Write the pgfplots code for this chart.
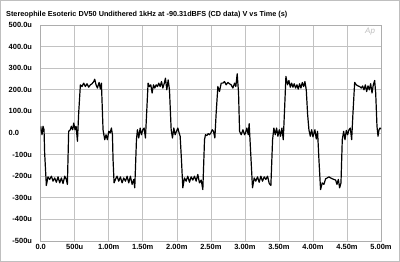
\documentclass[border=0pt]{standalone}
\usepackage{pgfplots}
\pgfplotsset{compat=1.18}
\usepackage{fontspec}
\setmainfont{Liberation Sans}
\begin{document}
\begin{tikzpicture}
\useasboundingbox (0bp,0bp) rectangle (400bp,262bp);
\fill[white] (0bp,0bp) rectangle (400bp,262bp);
\draw[black!25, line width=0.6bp] (0.3bp,0.3bp) rectangle (399.7bp,261.7bp);
\node[anchor=west, inner sep=0pt, font=\fontsize{7.3}{8}\selectfont\bfseries] at (6bp,247bp) {Stereophile Esoteric DV50 Undithered 1kHz at -90.31dBFS (CD data) V vs Time (s)};
\begin{axis}[
  at={(40.7bp,21bp)}, anchor=south west,
  scale only axis, width=340.3bp, height=216bp,
  xmin=0, xmax=5, ymin=-500, ymax=500,
  xtick={0,0.5,1,1.5,2,2.5,3,3.5,4,4.5,5},
  xticklabels={0.0,500u,1.00m,1.50m,2.00m,2.50m,3.00m,3.50m,4.00m,4.50m,5.00m},
  ytick={-500,-400,-300,-200,-100,0,100,200,300,400,500},
  yticklabels={-500u,-400u,-300u,-200u,-100u,{0.0\phantom{10u}},100.0u,200.0u,300.0u,400.0u,500.0u},
  tick label style={font=\fontsize{7.5}{8}\selectfont\bfseries, inner sep=0pt},
  yticklabel style={anchor=east, xshift=-8.5bp},
  xticklabel style={anchor=north, yshift=-3bp},
  major tick length=0pt,
  grid=major,
  major grid style={draw=black!24, line width=0.6bp},
  axis line style={draw=black!32, line width=0.6bp},
  clip=true,
]
\node[font=\fontsize{8}{8}\selectfont\itshape, text=black!25] at (axis cs:4.84,470) {Ap};
\addplot[black, line width=1.2bp, line join=round, mark=none] table {
t v
0.000 31
0.010 8
0.020 -8
0.034 31
0.049 15
0.058 -92
0.083 -243
0.107 -203
0.132 -215
0.157 -200
0.181 -223
0.206 -208
0.230 -228
0.255 -203
0.279 -231
0.304 -208
0.328 -234
0.353 -200
0.377 -215
0.392 -238
0.411 8
0.436 15
0.450 31
0.470 15
0.485 46
0.505 15
0.520 31
0.540 -38
0.558 92
0.583 223
0.607 215
0.632 231
0.656 215
0.681 228
0.705 212
0.730 223
0.754 228
0.779 238
0.794 249
0.813 223
0.833 208
0.858 234
0.877 203
0.892 231
0.916 15
0.941 -31
0.960 -8
0.980 -31
1.000 8
1.020 0
1.039 23
1.054 -8
1.063 -123
1.078 -231
1.098 -215
1.122 -200
1.147 -223
1.171 -203
1.196 -231
1.220 -208
1.245 -223
1.269 -200
1.294 -231
1.318 -200
1.343 -238
1.367 -215
1.382 -254
1.407 -31
1.421 15
1.441 -23
1.461 23
1.480 -8
1.500 15
1.519 23
1.539 -23
1.559 108
1.578 231
1.598 215
1.618 223
1.637 185
1.657 223
1.676 208
1.696 223
1.716 215
1.735 231
1.755 215
1.775 238
1.794 208
1.814 228
1.833 254
1.853 200
1.873 246
1.892 200
1.917 15
1.936 -23
1.956 23
1.975 -8
1.995 8
2.015 23
2.034 0
2.049 -15
2.068 -123
2.088 -254
2.112 -208
2.137 -223
2.161 -200
2.186 -228
2.210 -203
2.235 -218
2.259 -200
2.284 -223
2.308 -192
2.333 -231
2.358 -218
2.382 -262
2.407 -31
2.421 -8
2.441 -12
2.461 -3
2.480 -8
2.500 0
2.520 15
2.539 8
2.559 -23
2.578 92
2.603 215
2.627 192
2.652 231
2.676 231
2.701 238
2.725 223
2.750 234
2.774 228
2.799 223
2.823 208
2.848 231
2.867 215
2.887 274
2.907 185
2.922 8
2.946 -8
2.971 15
2.995 -8
3.009 0
3.029 23
3.049 -8
3.063 43
3.088 -108
3.112 -254
3.137 -208
3.161 -223
3.186 -203
3.210 -228
3.235 -200
3.259 -223
3.284 -203
3.308 -215
3.333 -200
3.358 -234
3.382 -243
3.407 -31
3.426 23
3.446 -8
3.466 23
3.485 -15
3.505 15
3.524 -15
3.544 23
3.564 -31
3.583 108
3.603 262
3.627 223
3.647 243
3.667 212
3.686 231
3.706 212
3.725 228
3.745 208
3.765 223
3.784 203
3.804 228
3.824 208
3.843 234
3.863 215
3.882 238
3.902 200
3.922 85
3.941 15
3.961 -15
3.981 15
4.000 -18
4.029 15
4.049 -28
4.068 8
4.088 -123
4.112 -262
4.137 -231
4.161 -238
4.186 -212
4.210 -208
4.235 -203
4.259 -208
4.284 -212
4.308 -215
4.333 -218
4.353 -238
4.373 -215
4.392 -254
4.412 -231
4.431 -31
4.451 8
4.471 -31
4.490 12
4.510 -8
4.529 15
4.549 23
4.569 -31
4.588 92
4.613 234
4.637 223
4.662 218
4.686 215
4.711 208
4.730 218
4.750 200
4.770 223
4.789 192
4.809 218
4.828 200
4.848 228
4.868 185
4.887 223
4.907 243
4.922 185
4.941 31
4.956 -15
4.971 15
4.985 23
5.000 18
};
\end{axis}
\end{tikzpicture}
\end{document}
